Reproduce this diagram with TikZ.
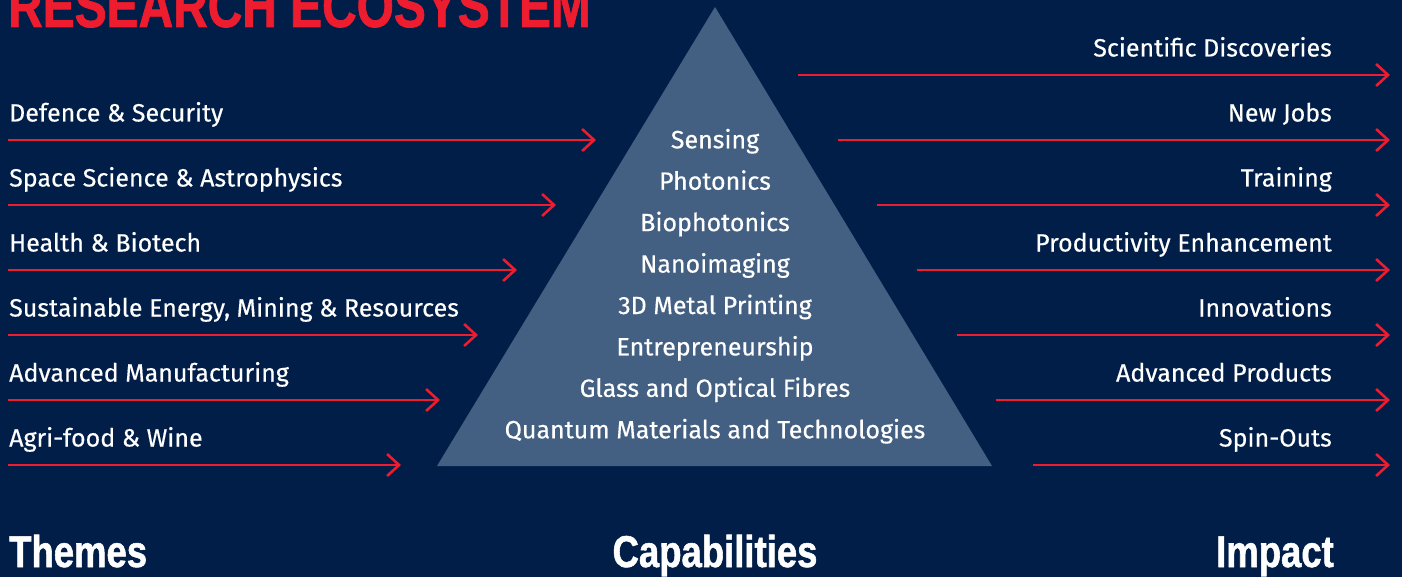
\documentclass[tikz,border=0pt]{standalone}
\usepackage{fontspec}
\setmainfont{Fira Sans}[FakeBold=0.4]
\newfontfamily\headfont[FakeStretch=0.82,FakeBold=1.2]{Liberation Sans Bold}
\newfontfamily\titlefont[FakeStretch=0.785,FakeBold=1.2]{Liberation Sans Bold}
\usetikzlibrary{arrows.meta}
\definecolor{navybg}{HTML}{001E48}
\definecolor{trifill}{HTML}{436082}
\definecolor{redline}{HTML}{ED1C2E}
\tikzset{
  lbl/.style={text=white,inner sep=0pt,font=\fontsize{25bp}{29bp}\selectfont},
  head/.style={text=white,inner sep=0pt,font=\headfont\fontsize{44.5bp}{50bp}\selectfont},
  arr/.style={draw=redline,line width=2.6bp,-{Straight Barb[length=12bp,width=22bp,line width=2.6bp]}},
}
\begin{document}
\begin{tikzpicture}[x=1bp,y=-1bp]
\fill[navybg] (0,0) rectangle (1402,577);
\useasboundingbox (0,0) rectangle (1402,577);
% title
\node[inner sep=0pt,anchor=base west,text=redline,font=\titlefont\fontsize{61bp}{66bp}\selectfont] (title) at (8,27) {RESEARCH ECOSYSTEM};
% triangle
\coordinate (apex) at (715,7);
\coordinate (bl) at (437,466);
\coordinate (br) at (992,466);
\fill[trifill] (apex) -- (bl) -- (br) -- cycle;
% capabilities
\foreach \t [count=\i from 0] in {Sensing,Photonics,Biophotonics,Nanoimaging,3D Metal Printing,Entrepreneurship,Glass and Optical Fibres,Quantum Materials and Technologies}{
  \node[lbl,anchor=base] (cap\i) at (715,148.3+41.43*\i) {\t};
}
% themes
\foreach \t/\e [count=\i from 0] in {Defence \& Security/596,Space Science \& Astrophysics/556,Health \& Biotech/517,{Sustainable Energy, Mining \& Resources}/478,Advanced Manufacturing/440,Agri-food \& Wine/401}{
  \node[lbl,anchor=base west] (th\i) at (9,121.5+65*\i) {\t};
  \coordinate (ts\i) at (8,140+65*\i);
  \coordinate (te\i) at (\e,140+65*\i);
  \draw[arr] (ts\i) -- (te\i);
}
% impact
\foreach \t/\s [count=\i from 0] in {Scientific Discoveries/798,New Jobs/838,Training/877,Productivity Enhancement/917,Innovations/957,Advanced Products/996,Spin-Outs/1033}{
  \node[lbl,anchor=base east] (im\i) at (1332,56.5+65*\i) {\t};
  \coordinate (is\i) at (\s,75+65*\i);
  \coordinate (ie\i) at (1390,75+65*\i);
  \draw[arr] (is\i) -- (ie\i);
}
% bottom headings
\node[head,anchor=base west] (themes) at (9,567) {Themes};
\node[head,anchor=base] (caps) at (715,567) {Capabilities};
\node[head,anchor=base east] (impact) at (1334,567) {Impact};
\end{tikzpicture}
\end{document}
